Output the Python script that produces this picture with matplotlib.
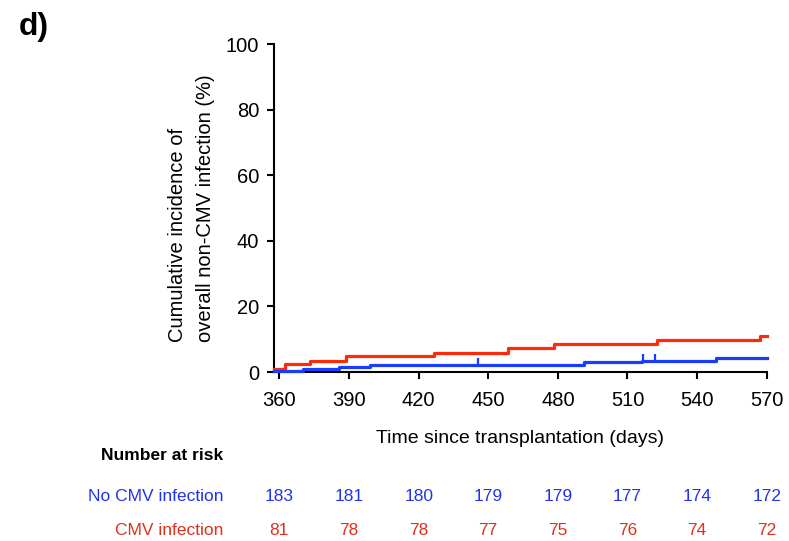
import matplotlib
matplotlib.use("Agg")
import matplotlib.pyplot as plt
import matplotlib.transforms as mtransforms

plt.rcParams['font.family'] = ['Liberation Sans', 'DejaVu Sans']

# ---- data ----
red_times = [357.8, 362.2, 373.2, 388.7, 426.6, 458.3, 478.5, 522.6, 567.1, 570.0]
red_vals = [0.8, 2.4, 3.4, 5.0, 5.9, 7.2, 8.5, 9.8, 11.1, 11.1]
blue_times = [357.8, 370.3, 385.7, 399.1, 491.3, 516.1, 548.3, 570.0]
blue_vals = [0.2, 0.9, 1.5, 2.1, 3.0, 3.4, 4.2, 4.2]
blue_censor_times = [445.7, 516.8, 521.9]
blue_censor_vals = [2.1, 3.4, 3.4]

x_ticks = [360, 390, 420, 450, 480, 510, 540, 570]
y_ticks = [0, 20, 40, 60, 80, 100]
risk_no_cmv = [183, 181, 180, 179, 179, 177, 174, 172]
risk_cmv = [81, 78, 78, 77, 75, 76, 74, 72]

RED = '#ff2a0a'
BLUE = '#1a3cff'
RED_T = '#e0301e'
BLUE_T = '#2233ee'

W, H = 789, 541
fig = plt.figure(figsize=(W / 100, H / 100), dpi=100)
ax = fig.add_axes([274.3 / W, 1 - 372 / H, (766.7 - 274.3) / W, (372 - 44) / H])

ax.step(red_times, red_vals, where='post', color=RED, lw=2.3, clip_on=False, zorder=3)
ax.step(blue_times, blue_vals, where='post', color=BLUE, lw=2.3, clip_on=False, zorder=4)
ax.vlines(blue_censor_times, blue_censor_vals, [v + 2.1 for v in blue_censor_vals],
          color=BLUE, lw=1.6, zorder=4)

ax.set_xlim(357.8, 570)
ax.set_ylim(0, 100)
ax.set_xticks(x_ticks)
ax.set_yticks(y_ticks)
ax.tick_params(axis='both', labelsize=14.5, width=1.5, length=5, direction='out', color='black')
ax.tick_params(axis='x', pad=9)
ax.tick_params(axis='y', pad=6)
for s in ['top', 'right']:
    ax.spines[s].set_visible(False)
for s in ['left', 'bottom']:
    ax.spines[s].set_linewidth(1.5)

ax.set_xlabel('Time since transplantation (days)', fontsize=14, labelpad=14)
ax.set_ylabel('Cumulative incidence of\noverall non-CMV infection (%)', fontsize=14.5,
              labelpad=8, linespacing=1.55, multialignment='left')

fig.text(19 / W, 1 - 27 / H, 'd)', fontsize=23, fontweight='bold', va='center', ha='left')

# Number at risk table
fs = 12.5
fig.text(223.5 / W, 1 - 455 / H, 'Number at risk', fontsize=fs, fontweight='bold',
         ha='right', va='center')
fig.text(223.5 / W, 1 - 496.5 / H, 'No CMV infection', fontsize=fs, color=BLUE_T,
         ha='right', va='center')
fig.text(223.5 / W, 1 - 530.5 / H, 'CMV infection', fontsize=fs, color=RED_T,
         ha='right', va='center')
trans = mtransforms.blended_transform_factory(ax.transData, fig.transFigure)
for xt, a, b in zip(x_ticks, risk_no_cmv, risk_cmv):
    fig.text(xt, 1 - 496.5 / H, str(a), fontsize=fs, color=BLUE_T, ha='center',
             va='center', transform=trans)
    fig.text(xt, 1 - 530.5 / H, str(b), fontsize=fs, color=RED_T, ha='center',
             va='center', transform=trans)

fig.savefig('out.png', dpi=100)
